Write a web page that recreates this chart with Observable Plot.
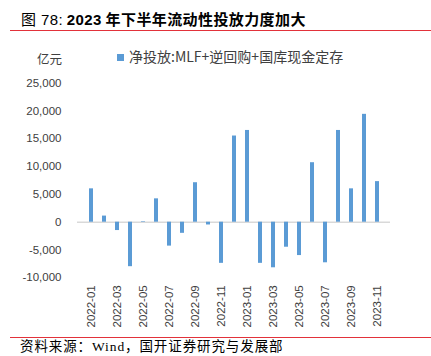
<!DOCTYPE html>
<html>
<head>
<meta charset="utf-8">
<script src="https://cdn.jsdelivr.net/npm/d3@7"></script>
<script src="https://cdn.jsdelivr.net/npm/@observablehq/plot@0.6"></script>
<style>
  html, body { margin: 0; padding: 0; background: #fff; }
  #wrap { position: relative; width: 431px; height: 356px; overflow: hidden; font-family: "Noto Sans CJK SC", "Liberation Sans", sans-serif; }
  #wrap svg { position: absolute; left: 0; top: 0; }
  .abs { position: absolute; white-space: nowrap; }
  #title { left: 21px; top: 11px; font-size: 15px; line-height: 16px; color: #000; letter-spacing: 0.4px; }
  #title .n { font-family: "Liberation Sans", "Noto Sans CJK SC", sans-serif; font-weight: normal; }
  #title .b { font-weight: bold; }
  #title .b .lat { font-family: "Liberation Sans", sans-serif; }
  .redline { position: absolute; left: 10px; width: 421px; height: 1px; background: #e2323a; }
  #legend { left: 117px; top: 47px; font-size: 14px; line-height: 18px; color: #404040; }
  #legend .sw { display: inline-block; width: 7px; height: 7px; background: #5b9bd5; margin-right: 5px; vertical-align: 1px; }
  #unit { left: 37px; top: 51px; font-size: 12.5px; line-height: 16px; color: #404040; }
  #caption { left: 20px; top: 339px; font-size: 13.5px; line-height: 16px; color: #000; font-family: "Liberation Serif", "Noto Sans CJK SC", serif; letter-spacing: 0.9px; }
</style>
</head>
<body>
<div id="wrap"></div>
<script>
// Data
const months = ["2022-01","2022-02","2022-03","2022-04","2022-05","2022-06","2022-07","2022-08","2022-09","2022-10","2022-11","2022-12",
                "2023-01","2023-02","2023-03","2023-04","2023-05","2023-06","2023-07","2023-08","2023-09","2023-10","2023-11"];
const netInjection = [6000, 1100, -1500, -8000, 100, 4200, -4300, -2000, 7100, -500, -7400, 15500,
                      16500, -7400, -8200, -4500, -6000, 10700, -7300, 16500, 6000, 19400, 7300];
const xTickLabels = ["2022-01","2022-03","2022-05","2022-07","2022-09","2022-11","2023-01","2023-03","2023-05","2023-07","2023-09","2023-11"];
const yTicks = [-10000, -5000, 0, 5000, 10000, 15000, 20000, 25000];
const seriesName = "净投放:MLF+逆回购+国库现金定存";
const unitLabel = "亿元";
const titleNum = "图 78:";
const titleText = "2023 年下半年流动性投放力度加大";
const captionText = "资料来源：Wind，国开证券研究与发展部";

const data = months.map((m, i) => ({month: m, value: netInjection[i]}));

const chart = Plot.plot({
  width: 431,
  height: 356,
  marginLeft: 77,
  marginRight: 41,
  marginTop: 82.7,
  marginBottom: 78.7,
  style: { fontFamily: "Liberation Sans, sans-serif", fontSize: "11.5px", color: "#404040", background: "transparent" },
  x: { domain: months, paddingInner: 0.7, paddingOuter: 0.3, label: null },
  y: { domain: [-10000, 25000], label: null },
  marks: [
    Plot.ruleY([0], { stroke: "#d9d9d9", strokeWidth: 1.5 }),
    Plot.barY(data, { x: "month", y: "value", fill: "#5b9bd5" }),
    Plot.axisY({ ticks: yTicks, tickSize: 0, tickPadding: 16, tickFormat: d => d.toLocaleString("en-US"), label: null, fill: "#404040" }),
    Plot.axisX({ ticks: xTickLabels, tickSize: 0, tickPadding: 7.5, tickRotate: -90, label: null, fill: "#404040" })
  ]
});

const wrap = document.getElementById("wrap");
wrap.appendChild(chart);

function addDiv(id, html) {
  const d = document.createElement("div");
  d.className = "abs";
  d.id = id;
  d.innerHTML = html;
  wrap.appendChild(d);
  return d;
}
addDiv("title", `<span class="n">${titleNum}</span>&nbsp;<span class="b"><span class="lat">${titleText.slice(0,4)}</span>${titleText.slice(4)}</span>`);
const l1 = document.createElement("div"); l1.className = "redline"; l1.style.top = "30px"; wrap.appendChild(l1);
const l2 = document.createElement("div"); l2.className = "redline"; l2.style.top = "337px"; wrap.appendChild(l2);
addDiv("legend", `<span class="sw"></span>${seriesName}`);
addDiv("unit", unitLabel);
addDiv("caption", captionText);
</script>
</body>
</html>
